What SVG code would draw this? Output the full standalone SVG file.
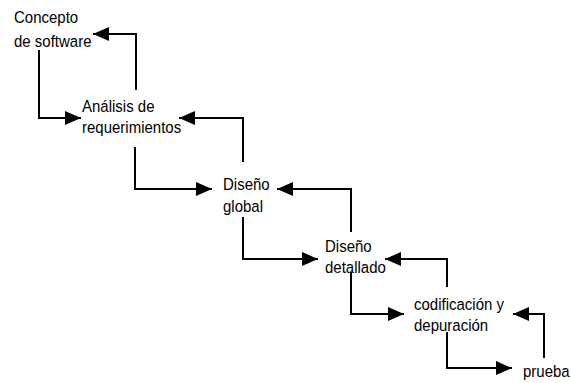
<svg xmlns="http://www.w3.org/2000/svg" width="571" height="383" viewBox="0 0 571 383">
  <style>
    .lbl { font-family: "Liberation Sans", Arial, sans-serif; font-size: 15px; fill: #000; }
    .flow { fill: none; stroke: #000; stroke-width: 2; marker-end: url(#head); }
  </style>
  <defs>
    <marker id="head" markerUnits="userSpaceOnUse" markerWidth="16" markerHeight="14" refX="16" refY="7" orient="auto">
      <path d="M0,0 L16,7 L0,14 Z" fill="#000"/>
    </marker>
  </defs>
  <rect width="571" height="383" fill="#fff"/>

  <!-- connectors: forward steps (down/right) and feedback steps (up/left) -->
  <g id="connectors">
    <path class="flow" d="M39,50 V118 H81"/>
    <path class="flow" d="M136,90 V34 H93"/>
    <path class="flow" d="M135,147 V189 H212"/>
    <path class="flow" d="M243,162 V118 H179"/>
    <path class="flow" d="M243,217 V259 H318"/>
    <path class="flow" d="M351,232 V189 H277"/>
    <path class="flow" d="M351,272 V314 H404"/>
    <path class="flow" d="M447,287 V259 H385"/>
    <path class="flow" d="M447,332 V368 H512"/>
    <path class="flow" d="M544,358 V314 H513"/>
  </g>

  <!-- labels are slightly stretched vertically -->
  <g id="concepto">
    <text class="lbl" transform="translate(14,23) scale(1,1.15)">Concepto</text>
    <text class="lbl" transform="translate(14,47) scale(1,1.15)">de software</text>
  </g>
  <g id="analisis">
    <text class="lbl" transform="translate(82,112) scale(1,1.15)">Análisis de</text>
    <text class="lbl" transform="translate(82,133) scale(1,1.15)">requerimientos</text>
  </g>
  <g id="diseno-global">
    <text class="lbl" transform="translate(223,190) scale(1,1.15)">Diseño</text>
    <text class="lbl" transform="translate(223,212) scale(1,1.15)">global</text>
  </g>
  <g id="diseno-detallado">
    <text class="lbl" transform="translate(325,252) scale(1,1.15)">Diseño</text>
    <text class="lbl" transform="translate(325,273) scale(1,1.15)">detallado</text>
  </g>
  <g id="codificacion">
    <text class="lbl" transform="translate(414,310) scale(1,1.15)">codificación y</text>
    <text class="lbl" transform="translate(414,331) scale(1,1.15)">depuración</text>
  </g>
  <g id="prueba">
    <text class="lbl" transform="translate(523,377) scale(1,1.15)">prueba</text>
  </g>
</svg>
